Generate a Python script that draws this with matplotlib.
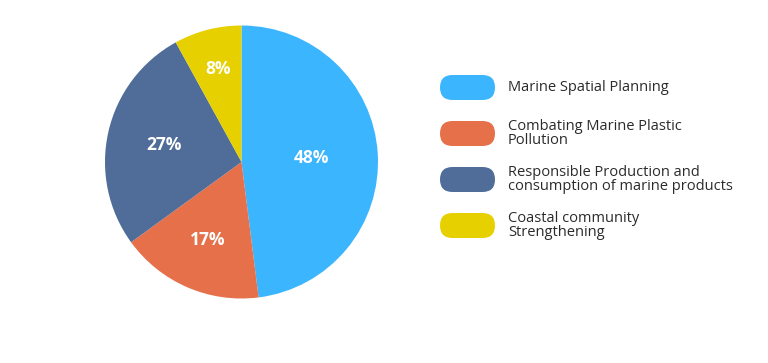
import matplotlib.pyplot as plt
import numpy as np
from matplotlib.patches import FancyBboxPatch

# data
labels = ['Marine Spatial Planning',
          'Combating Marine Plastic\nPollution',
          'Responsible Production and\nconsumption of marine products',
          'Coastal community\nStrengthening']
values = [48, 17, 27, 8]
colors = ['#3BB5FE', '#E5704A', '#4F6D98', '#E6D000']

plt.rcParams['font.family'] = ['Open Sans', 'DejaVu Sans']

fig = plt.figure(figsize=(7.68, 3.63), dpi=100)
ax = fig.add_axes([0, 0, 1, 1])

# pie in pixel coordinates (y up)
cx, cy, r = 241.5, 363 - 162, 136.5
wedges, texts, autotexts = ax.pie(values, colors=colors, startangle=90, counterclock=False,
                                  center=(cx, cy), radius=r, autopct='%d%%',
                                  pctdistance=0.6,
                                  textprops={'color': 'white', 'fontsize': 12.5, 'fontweight': 'bold'})

# move percent labels a bit, as in the original
label_r = [0.51, 0.62, 0.58, 0.70]
for w, t, lr in zip(wedges, autotexts, label_r):
    ang = np.deg2rad((w.theta1 + w.theta2) / 2)
    t.set_position((cx + lr * r * np.cos(ang), cy + lr * r * np.sin(ang)))
    t.set_ha('center')
    t.set_va('center')

# legend with rounded pills
y0 = 363 - 87.5
for i, (lab, col) in enumerate(zip(labels, colors)):
    yc = y0 - i * 46
    ax.add_patch(FancyBboxPatch((440, yc - 12.5), 55, 25,
                                boxstyle='round,pad=0,rounding_size=12.5',
                                fc=col, ec='none'))
    ax.text(508, yc, lab, fontsize=10.5, color='#2b2b2b', va='center', ha='left',
            linespacing=0.95)

ax.set_xlim(0, 768)
ax.set_ylim(0, 363)
ax.set_aspect('equal')
ax.axis('off')

fig.savefig('out.png', dpi=100)
